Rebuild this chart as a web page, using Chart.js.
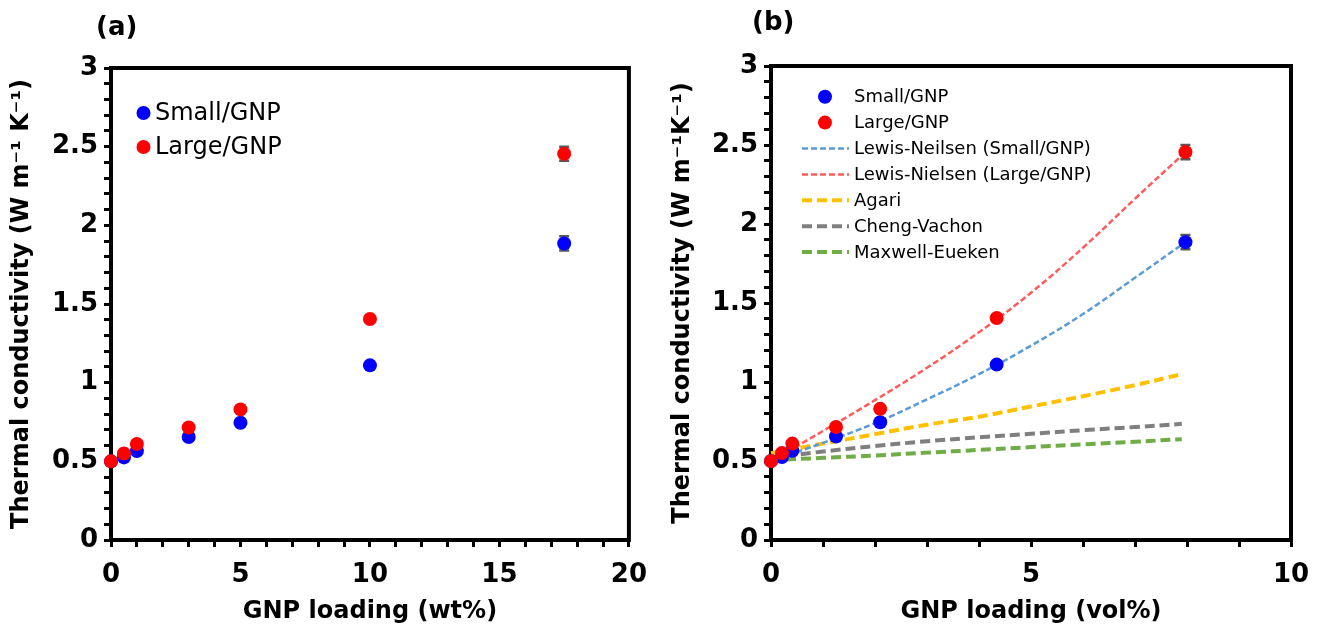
<!DOCTYPE html>
<html>
<head>
<meta charset="utf-8">
<title>Thermal conductivity vs GNP loading</title>
<script src="https://cdn.jsdelivr.net/npm/chart.js@4.4.0/dist/chart.umd.min.js"></script>
<style>
  html, body { margin: 0; padding: 0; background: #fff; }
  #wrap { position: relative; width: 1323px; height: 632px; overflow: hidden; }
  .panel { position: absolute; top: 0; height: 632px; }
  #panelA { left: 0; width: 660px; }
  #panelB { left: 660px; width: 663px; }
</style>
</head>
<body>
<div id="wrap">
  <div class="panel" id="panelA"><canvas id="chartA" width="660" height="632"></canvas></div>
  <div class="panel" id="panelB"><canvas id="chartB" width="663" height="632"></canvas></div>
</div>
<script>
// ---- measured data ----
const loadingWt  = [0, 0.5, 1, 3, 5, 10, 17.5];
const loadingVol = [0, 0.21, 0.41, 1.25, 2.1, 4.34, 7.97];
const kSmall   = [0.50, 0.525, 0.565, 0.655, 0.745, 1.11, 1.885];
const kLarge   = [0.50, 0.55, 0.61, 0.715, 0.83, 1.405, 2.455];
const errSmall = [0, 0, 0, 0, 0, 0, 0.045];
const errLarge = [0, 0, 0, 0, 0, 0, 0.045];

// ---- model curves (vol%) ----
const fitVol   = [0, 1, 2, 3, 4, 5, 6, 7, 7.97];
const lnSmall  = [0.50, 0.615, 0.74, 0.89, 1.05, 1.23, 1.43, 1.66, 1.885];
const lnLarge  = [0.50, 0.69, 0.885, 1.09, 1.315, 1.565, 1.85, 2.16, 2.455];
const modelVol = [0, 1, 2, 3, 4, 5, 6, 7, 7.9];
const agari        = [0.55, 0.61, 0.67, 0.73, 0.78, 0.845, 0.91, 0.98, 1.05];
const chengVachon  = [0.52, 0.56, 0.595, 0.625, 0.65, 0.672, 0.695, 0.715, 0.735];
const maxwellEucken = [0.505, 0.52, 0.535, 0.553, 0.57, 0.588, 0.605, 0.622, 0.638];

// ---- tick labels ----
const yLabels     = [0, 0.5, 1, 1.5, 2, 2.5, 3];
const xLabelsWt   = [0, 5, 10, 15, 20];
const xLabelsVol  = [0, 5, 10];

const FONT = '"DejaVu Sans", "Liberation Sans", sans-serif';
Chart.defaults.font.family = FONT;
Chart.defaults.color = '#000';

const pairs = (xs, ys) => xs.map((x, i) => ({ x: x, y: ys[i] }));
const hasLabel = (list, v) => list.some(l => Math.abs(l - v) < 1e-6);

// frame around the plot area
const framePlugin = {
  id: 'frame',
  beforeDatasetsDraw(chart) {
    const { ctx, chartArea: a } = chart;
    ctx.save();
    ctx.strokeStyle = '#000';
    ctx.lineWidth = 4;
    ctx.strokeRect(a.left, a.top, a.right - a.left, a.bottom - a.top);
    ctx.restore();
  }
};

// vertical error bars from dataset.errors
const errorBarPlugin = {
  id: 'errorBars',
  beforeDatasetsDraw(chart) {
    const { ctx } = chart;
    const xs = chart.scales.x, ys = chart.scales.y;
    chart.data.datasets.forEach(ds => {
      if (!ds.errors) return;
      ds.data.forEach((p, i) => {
        const e = ds.errors[i];
        if (!e) return;
        const px = xs.getPixelForValue(p.x);
        const top = ys.getPixelForValue(p.y + e);
        const bot = ys.getPixelForValue(p.y - e);
        ctx.save();
        ctx.strokeStyle = '#595959';
        ctx.lineWidth = 2.5;
        ctx.beginPath();
        ctx.moveTo(px, top); ctx.lineTo(px, bot);
        ctx.moveTo(px - 5, top); ctx.lineTo(px + 5, top);
        ctx.moveTo(px - 5, bot); ctx.lineTo(px + 5, bot);
        ctx.stroke();
        ctx.restore();
      });
    });
  }
};

// legend drawn inside the plot area
const insideLegend = {
  id: 'insideLegend',
  afterDraw(chart, args, opts) {
    const ctx = chart.ctx;
    ctx.save();
    ctx.font = opts.fontSize + 'px ' + FONT;
    ctx.textBaseline = 'middle';
    chart.data.datasets.forEach((ds, i) => {
      const y = opts.top + i * opts.rowGap;
      if (ds.showLine) {
        ctx.save();
        ctx.strokeStyle = ds.borderColor;
        ctx.lineWidth = ds.borderWidth;
        ctx.setLineDash(ds.borderDash || []);
        ctx.beginPath();
        ctx.moveTo(opts.lineStart, y);
        ctx.lineTo(opts.lineEnd, y);
        ctx.stroke();
        ctx.restore();
      } else {
        ctx.beginPath();
        ctx.arc(opts.markerX, y, ds.pointRadius, 0, Math.PI * 2);
        ctx.fillStyle = ds.backgroundColor;
        ctx.fill();
      }
      ctx.fillStyle = '#000';
      ctx.fillText(ds.label, opts.textX, y + 1);
    });
    ctx.restore();
  }
};

// "(a)" / "(b)" panel tag
const panelTag = {
  id: 'panelTag',
  afterDraw(chart, args, opts) {
    const ctx = chart.ctx;
    ctx.save();
    ctx.font = 'bold 26px ' + FONT;
    ctx.fillStyle = '#000';
    ctx.textBaseline = 'middle';
    ctx.fillText(opts.text, opts.x, opts.y);
    ctx.restore();
  }
};

function xAxis(max, title, labels) {
  return {
    type: 'linear', position: 'bottom', min: 0, max: max,
    afterFit: s => { s.height = 92; },
    border: { display: false },
    grid: { drawOnChartArea: false, tickLength: 7, tickWidth: 3, tickColor: '#000' },
    ticks: {
      stepSize: 1, autoSkip: false, maxRotation: 0, padding: 13,
      font: { size: 26, weight: 'bold' },
      callback: v => hasLabel(labels, v) ? String(v) : ''
    },
    title: { display: true, text: title, font: { size: 24, weight: 'bold' }, padding: { top: 0, bottom: 6 } }
  };
}

function yAxis(title, titlePad) {
  return {
    type: 'linear', position: 'left', min: 0, max: 3,
    afterFit: s => { s.width = 111; },
    border: { display: false },
    grid: { drawOnChartArea: false, tickLength: 7, tickWidth: 3, tickColor: '#000' },
    ticks: {
      stepSize: 0.1, autoSkip: false, padding: 6,
      font: { size: 26, weight: 'bold' },
      callback: v => hasLabel(yLabels, v) ? String(Math.round(v * 10) / 10) : ''
    },
    title: { display: true, text: title, font: { size: 24, weight: 'bold' }, padding: { top: titlePad, bottom: 0 } }
  };
}

function pointSet(label, xs, ys, errs, color, order) {
  return {
    label: label, data: pairs(xs, ys), errors: errs,
    showLine: false, pointRadius: 7, pointHoverRadius: 7, pointBorderWidth: 0,
    backgroundColor: color, borderColor: color, order: order, clip: false
  };
}

function curveSet(label, xs, ys, color, width, dash) {
  return {
    label: label, data: pairs(xs, ys),
    showLine: true, pointRadius: 0, borderColor: color, backgroundColor: color,
    borderWidth: width, borderDash: dash, tension: 0.4, order: 5, clip: false
  };
}

const common = {
  responsive: false,
  animation: false,
  devicePixelRatio: 1,
  events: []
};

// ---- (a) weight fraction ----
new Chart(document.getElementById('chartA'), {
  type: 'scatter',
  data: {
    datasets: [
      pointSet('Small/GNP', loadingWt, kSmall, errSmall, '#0000ff', 2),
      pointSet('Large/GNP', loadingWt, kLarge, errLarge, '#ff0000', 1)
    ]
  },
  options: Object.assign({}, common, {
    layout: { padding: { left: 0, right: 30, top: 68, bottom: 0 } },
    scales: {
      x: xAxis(20, 'GNP loading (wt%)', xLabelsWt),
      y: yAxis('Thermal conductivity (W m\u207B\u00B9 K\u207B\u00B9)', 7)
    },
    plugins: {
      legend: { display: false },
      tooltip: { enabled: false },
      insideLegend: { top: 113, rowGap: 34, markerX: 143.5, textX: 155, fontSize: 24 },
      panelTag: { text: '(a)', x: 96, y: 28 }
    }
  }),
  plugins: [framePlugin, errorBarPlugin, insideLegend, panelTag]
});

// ---- (b) volume fraction with models ----
new Chart(document.getElementById('chartB'), {
  type: 'scatter',
  data: {
    datasets: [
      pointSet('Small/GNP', loadingVol, kSmall, errSmall, '#0000ff', 2),
      pointSet('Large/GNP', loadingVol, kLarge, errLarge, '#ff0000', 1),
      curveSet('Lewis-Neilsen (Small/GNP)', fitVol, lnSmall, '#5b9bd5', 2.5, [6, 3]),
      curveSet('Lewis-Nielsen (Large/GNP)', fitVol, lnLarge, '#ff5b5b', 2.5, [6, 3]),
      curveSet('Agari', modelVol, agari, '#ffc000', 4, [10, 5]),
      curveSet('Cheng-Vachon', modelVol, chengVachon, '#7f7f7f', 4, [10, 5]),
      curveSet('Maxwell-Eueken', modelVol, maxwellEucken, '#70ad47', 4, [10, 5])
    ]
  },
  options: Object.assign({}, common, {
    layout: { padding: { left: 0, right: 32, top: 66, bottom: 0 } },
    scales: {
      x: xAxis(10, 'GNP loading (vol%)', xLabelsVol),
      y: yAxis('Thermal conductivity (W m\u207B\u00B9K\u207B\u00B9)', 8)
    },
    plugins: {
      legend: { display: false },
      tooltip: { enabled: false },
      insideLegend: { top: 96.7, rowGap: 25.9, markerX: 165, lineStart: 142, lineEnd: 189, textX: 194, fontSize: 18 },
      panelTag: { text: '(b)', x: 92, y: 23 }
    }
  }),
  plugins: [framePlugin, errorBarPlugin, insideLegend, panelTag]
});
</script>
</body>
</html>
